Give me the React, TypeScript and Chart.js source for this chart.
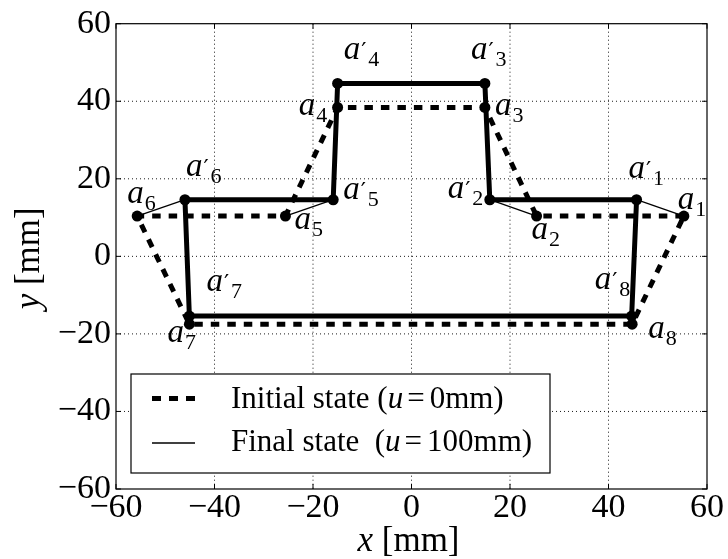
import React, { useEffect, useRef } from 'react';
import { Chart, registerables } from 'chart.js';

Chart.register(...registerables);

// ---- data ----
const POINT_NAMES = ['1', '2', '3', '4', '5', '6', '7', '8'];
const INITIAL_X = [55.3, 25.4, 14.9, -15.0, -25.6, -55.7, -45.1, 44.8];
const INITIAL_Y = [10.4, 10.4, 38.4, 38.4, 10.4, 10.4, -17.5, -17.5];
const FINAL_X = [45.7, 15.9, 14.9, -15.0, -15.9, -46.0, -45.1, 44.7];
const FINAL_Y = [14.6, 14.6, 44.6, 44.6, 14.6, 14.6, -15.4, -15.4];
const X_TICKS = [-60, -40, -20, 0, 20, 40, 60];
const Y_TICKS = [-60, -40, -20, 0, 20, 40, 60];
const X_TITLE = ['x', ' [mm]'];
const Y_TITLE = ['y', ' [mm]'];
const LEGEND_INITIAL = ['Initial state (', 'u', '=', '0mm)'];
const LEGEND_FINAL = ['Final state  (', 'u', '=', '100mm)'];

// ---- label placement (pixel offsets of the "a" glyph from its point) ----
const INITIAL_LABEL_OFFSETS = [
  [-6, -7], [-5, 23], [10, 8], [-39, 8], [9, 13], [-10, -13], [-22, 18], [16, 14],
];
const FINAL_LABEL_OFFSETS = [
  [-8, -22], [-42, -2], [-14, -24], [6, -24], [10, -1], [1, -24], [17, -25], [-37, -27],
];

const SERIF = '"Liberation Serif", "DejaVu Serif", serif';
const DASH = [8.5, 8];

const fmt = (v: number | string) => {
  const n = Number(v);
  return n < 0 ? '\u2212' + Math.abs(n) : String(n);
};

function drawPointLabel(ctx: CanvasRenderingContext2D, x: number, y: number, digit: string, primed: boolean) {
  ctx.textAlign = 'left';
  ctx.textBaseline = 'alphabetic';
  ctx.font = `italic 33px ${SERIF}`;
  ctx.fillText('a', x, y);
  const w = ctx.measureText('a').width;
  let sx = x + w + 1;
  if (primed) {
    ctx.font = `23px "DejaVu Serif", serif`;
    ctx.fillText('\u2032', x + w + 1, y - 1);
    sx = x + w + 8;
  }
  ctx.font = `22px ${SERIF}`;
  ctx.fillText(digit, sx, y + 7);
}

type Seg = { t: string; italic?: boolean; gap?: number };

function drawSegments(ctx: CanvasRenderingContext2D, x: number, y: number, segs: Seg[], size: number) {
  let cx = x;
  for (const s of segs) {
    ctx.font = `${s.italic ? 'italic ' : ''}${size}px ${SERIF}`;
    ctx.fillText(s.t, cx, y);
    cx += ctx.measureText(s.t).width + (s.gap || 0);
  }
  return cx - x;
}

function segWidth(ctx: CanvasRenderingContext2D, segs: Seg[], size: number) {
  let w = 0;
  for (const s of segs) {
    ctx.font = `${s.italic ? 'italic ' : ''}${size}px ${SERIF}`;
    w += ctx.measureText(s.t).width + (s.gap || 0);
  }
  return w;
}

const framePlugin = {
  id: 'frameGrid',
  beforeDatasetsDraw(chart: any) {
    const { ctx, chartArea, scales } = chart;
    const { left, right, top, bottom } = chartArea;
    const xs = scales.x;
    const ys = scales.y;
    ctx.save();
    ctx.strokeStyle = '#000';
    ctx.lineWidth = 0.9;
    ctx.setLineDash([1, 3]);
    for (const v of X_TICKS) {
      const px = xs.getPixelForValue(v);
      if (px <= left + 1 || px >= right - 1) continue;
      ctx.beginPath();
      ctx.moveTo(px, top);
      ctx.lineTo(px, bottom);
      ctx.stroke();
    }
    for (const v of Y_TICKS) {
      const py = ys.getPixelForValue(v);
      if (py <= top + 1 || py >= bottom - 1) continue;
      ctx.beginPath();
      ctx.moveTo(left, py);
      ctx.lineTo(right, py);
      ctx.stroke();
    }
    ctx.setLineDash([]);
    ctx.lineWidth = 1.2;
    ctx.strokeRect(left, top, right - left, bottom - top);
    const tl = 5;
    ctx.lineWidth = 1;
    for (const v of X_TICKS) {
      const px = xs.getPixelForValue(v);
      ctx.beginPath();
      ctx.moveTo(px, bottom);
      ctx.lineTo(px, bottom - tl);
      ctx.moveTo(px, top);
      ctx.lineTo(px, top + tl);
      ctx.stroke();
    }
    for (const v of Y_TICKS) {
      const py = ys.getPixelForValue(v);
      ctx.beginPath();
      ctx.moveTo(left, py);
      ctx.lineTo(left + tl, py);
      ctx.moveTo(right, py);
      ctx.lineTo(right - tl, py);
      ctx.stroke();
    }
    ctx.restore();
  },
  afterDatasetsDraw(chart: any) {
    const { ctx, scales } = chart;
    const xs = scales.x;
    const ys = scales.y;
    ctx.save();
    ctx.fillStyle = '#000';
    POINT_NAMES.forEach((name, i) => {
      const px = xs.getPixelForValue(INITIAL_X[i]);
      const py = ys.getPixelForValue(INITIAL_Y[i]);
      const [dx, dy] = INITIAL_LABEL_OFFSETS[i];
      drawPointLabel(ctx, px + dx, py + dy, name, false);
      const fx = xs.getPixelForValue(FINAL_X[i]);
      const fy = ys.getPixelForValue(FINAL_Y[i]);
      const [fdx, fdy] = FINAL_LABEL_OFFSETS[i];
      drawPointLabel(ctx, fx + fdx, fy + fdy, name, true);
    });
    ctx.restore();
  },
  afterDraw(chart: any) {
    const { ctx, chartArea } = chart;
    const { left, right, top, bottom } = chartArea;
    ctx.save();
    ctx.fillStyle = '#000';
    ctx.textBaseline = 'alphabetic';
    ctx.textAlign = 'left';

    // axis titles
    const xseg: Seg[] = [{ t: X_TITLE[0], italic: true }, { t: X_TITLE[1] }];
    const xw = segWidth(ctx, xseg, 35);
    drawSegments(ctx, (left + right) / 2 - xw / 2 - 3, 551, xseg, 35);
    const yseg: Seg[] = [{ t: Y_TITLE[0], italic: true }, { t: Y_TITLE[1] }];
    const yw = segWidth(ctx, yseg, 35);
    ctx.save();
    ctx.translate(39, (top + bottom) / 2 + 2);
    ctx.rotate(-Math.PI / 2);
    drawSegments(ctx, -yw / 2, 0, yseg, 35);
    ctx.restore();

    // legend
    const bx = 131, by = 374, bw = 419, bh = 99;
    ctx.fillStyle = '#fff';
    ctx.fillRect(bx, by, bw, bh);
    ctx.strokeStyle = '#000';
    ctx.lineWidth = 1.2;
    ctx.strokeRect(bx, by, bw, bh);
    ctx.lineCap = 'butt';
    ctx.lineWidth = 5;
    ctx.setLineDash([9, 8]);
    ctx.beginPath();
    ctx.moveTo(152, 398.5);
    ctx.lineTo(195, 398.5);
    ctx.stroke();
    ctx.setLineDash([]);
    ctx.lineWidth = 1.3;
    ctx.beginPath();
    ctx.moveTo(152, 443);
    ctx.lineTo(195, 443);
    ctx.stroke();
    ctx.fillStyle = '#000';
    const seg1: Seg[] = [
      { t: LEGEND_INITIAL[0] },
      { t: LEGEND_INITIAL[1], italic: true, gap: 4 },
      { t: LEGEND_INITIAL[2], gap: 5 },
      { t: LEGEND_INITIAL[3] },
    ];
    const seg2: Seg[] = [
      { t: LEGEND_FINAL[0] },
      { t: LEGEND_FINAL[1], italic: true, gap: 4 },
      { t: LEGEND_FINAL[2], gap: 5 },
      { t: LEGEND_FINAL[3] },
    ];
    drawSegments(ctx, 231, 408, seg1, 31);
    drawSegments(ctx, 231, 451, seg2, 31);
    ctx.restore();
  },
};

export default function App() {
  const canvasRef = useRef<HTMLCanvasElement | null>(null);

  useEffect(() => {
    if (!canvasRef.current) return;
    const initialPts = INITIAL_X.map((x, i) => ({ x, y: INITIAL_Y[i] }));
    const finalPts = FINAL_X.map((x, i) => ({ x, y: FINAL_Y[i] }));

    const lineBase = {
      showLine: true,
      borderColor: '#000',
      backgroundColor: '#000',
      pointRadius: 0,
      pointHoverRadius: 0,
      tension: 0,
    };

    const connectors = initialPts.map((p, i) => ({
      ...lineBase,
      data: [p, finalPts[i]],
      borderWidth: 1.3,
    }));

    const datasets: any[] = [
      {
        data: [...initialPts, ...finalPts],
        showLine: false,
        pointRadius: 5.5,
        pointHoverRadius: 5.5,
        pointBorderWidth: 0,
        pointBackgroundColor: '#000',
        backgroundColor: '#000',
        borderColor: '#000',
      },
      ...connectors,
      {
        ...lineBase,
        data: [...finalPts, finalPts[0]],
        borderWidth: 5,
        borderJoinStyle: 'miter',
        borderCapStyle: 'square',
      },
      {
        ...lineBase,
        data: [...initialPts, initialPts[0]],
        borderWidth: 5,
        borderDash: DASH,
        borderCapStyle: 'butt',
      },
    ];

    const tickFont = { family: SERIF, size: 34, lineHeight: 1.1 };

    const chart = new Chart(canvasRef.current, {
      type: 'scatter',
      data: { datasets },
      options: {
        animation: false,
        responsive: false,
        maintainAspectRatio: false,
        events: [],
        layout: { padding: { left: 0, right: 21, top: 22, bottom: 0 } },
        plugins: {
          legend: { display: false },
          tooltip: { enabled: false },
        },
        scales: {
          x: {
            type: 'linear',
            min: -60,
            max: 60,
            afterBuildTicks: (s: any) => {
              s.ticks = X_TICKS.map((v) => ({ value: v }));
            },
            afterFit: (s: any) => {
              s.height = 70;
            },
            grid: { display: false, drawTicks: false },
            border: { display: false },
            ticks: {
              color: '#000',
              font: tickFont,
              padding: 0,
              maxRotation: 0,
              autoSkip: false,
              callback: (v: any) => fmt(v),
            },
          },
          y: {
            type: 'linear',
            min: -60,
            max: 60,
            afterBuildTicks: (s: any) => {
              s.ticks = Y_TICKS.map((v) => ({ value: v }));
            },
            afterFit: (s: any) => {
              s.width = 116;
            },
            grid: { display: false, drawTicks: false },
            border: { display: false },
            ticks: {
              color: '#000',
              font: tickFont,
              padding: 5,
              autoSkip: false,
              callback: (v: any) => fmt(v),
            },
          },
        },
      } as any,
      plugins: [framePlugin],
    });
    return () => chart.destroy();
  }, []);

  return (
    <div style={{ position: 'absolute', left: 0, top: 0, width: 728, height: 559, background: '#fff' }}>
      <canvas ref={canvasRef} width={728} height={559} style={{ display: 'block', width: 728, height: 559 }} />
    </div>
  );
}
